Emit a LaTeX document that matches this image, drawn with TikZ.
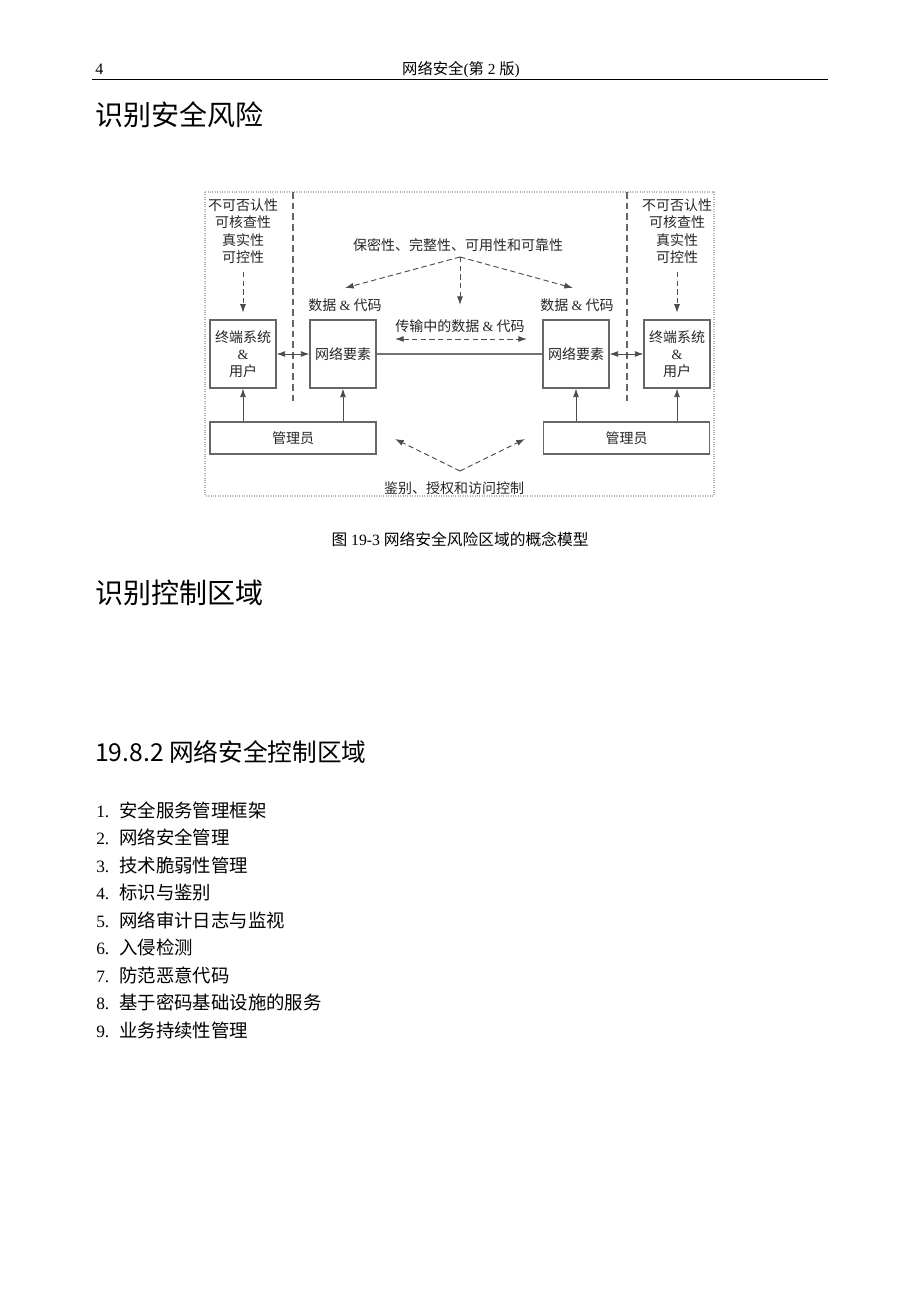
\documentclass[tikz,border=0pt]{standalone}
\usepackage{fontspec}
\setmainfont{Liberation Serif}
\newfontfamily\cjk{Noto Sans CJK SC}
\usetikzlibrary{arrows.meta,positioning}

\begin{document}
\begin{tikzpicture}[x=0.75pt,y=-0.75pt,
    box/.style={draw=black!60, line width=0.8pt, fill=white, inner sep=0pt, align=center,
        minimum width=49.5pt, minimum height=51pt, text=black!85,
        font=\cjk\fontsize{10.5}{12.8}\selectfont},
    mgrbox/.style={box, minimum width=124.5pt, minimum height=24pt},
    lbl/.style={inner sep=0pt, align=center, text=black!85,
        font=\cjk\fontsize{10.5}{13.1}\selectfont},
    arr/.style={draw=black!70, line width=0.7pt, -{Latex[length=6.5pt,width=4.5pt]}},
    dbl/.style={arr, {Latex[length=6.5pt,width=4.5pt]}-{Latex[length=6.5pt,width=4.5pt]}},
    dasharr/.style={arr, dash pattern=on 4pt off 2.5pt},
    dbldash/.style={dbl, dash pattern=on 4pt off 2.5pt},
    zone/.style={draw=black!60, line width=0.8pt, dash pattern=on 5pt off 3pt},
    link/.style={draw=black!55, line width=1.2pt},
    heading/.style={anchor=west, inner sep=0pt, font=\cjk\fontsize{21}{25}\selectfont},
    listnum/.style={anchor=base west, inner sep=0pt, font=\fontsize{13}{15}\selectfont},
    listtext/.style={anchor=base west, inner sep=0pt, font=\cjk\fontsize{13.8}{16}\selectfont}]

    % Page
    \fill[white] (0,0) rectangle (920,1301);
    \useasboundingbox (0,0) rectangle (920,1301);

    % Running head
    \node[anchor=base west, inner sep=0pt, font=\fontsize{12}{14}\selectfont] (pagenum) at (95,75) {4};
    \node[anchor=base, inner sep=0pt, font=\fontsize{11.5}{13}\selectfont] (runhead) at (461,75)
        {{\cjk 网络安全}({\cjk 第} 2 {\cjk 版})};
    \draw[line width=1pt] (92,79.5) -- (828,79.5);

    \node[heading] (head1) at (95,115) {识别安全风险};

    % Figure frame and zone borders
    \draw[gray!60, densely dotted, line width=0.8pt] (205,192) rectangle (714,496);
    \draw[zone] (293,192) -- (293,403);
    \draw[zone] (627,192) -- (627,403);

    % Boxes
    \node[box] (termL) at (243,354) {终端系统\\{\rmfamily\&}\\用户};
    \node[box] (netL) at (343,354) {网络要素};
    \node[box] (netR) at (576,354) {网络要素};
    \node[box] (termR) at (677,354) {终端系统\\{\rmfamily\&}\\用户};
    \node[mgrbox] (mgrL) at (293,438) {管理员};
    \node[mgrbox] (mgrR) at (626.5,438) {管理员};

    % Security services at the end systems
    \node[lbl] (attrL) at (243,231) {不可否认性\\可核查性\\真实性\\可控性};
    \node[lbl] (attrR) at (677,231) {不可否认性\\可核查性\\真实性\\可控性};
    \draw[dasharr, shorten <=6pt, shorten >=5pt] (attrL) -- (termL);
    \draw[dasharr, shorten <=6pt, shorten >=5pt] (attrR) -- (termR);

    % Confidentiality etc. of data and code
    \node[lbl] (cia) at (458,245) {保密性、完整性、可用性和可靠性};
    \node[lbl] (dataL) at (345,305) {数据 {\rmfamily\&} 代码};
    \node[lbl] (dataR) at (577,305) {数据 {\rmfamily\&} 代码};
    \node[lbl] (transit) at (460,326) {传输中的数据 {\rmfamily\&} 代码};
    \coordinate (ciaTip) at (460,257);
    \coordinate (dataLtip) at (345,288);
    \coordinate (dataRtip) at (573,288);
    \coordinate (midTip) at (460,305);
    \draw[dasharr] (ciaTip) -- (dataLtip);
    \draw[dasharr] (ciaTip) -- (dataRtip);
    \draw[dasharr] (ciaTip) -- (midTip);
    \coordinate (transA) at (395,339);
    \coordinate (transB) at (527,339);
    \draw[dbldash] (transA) -- (transB);

    % Links between boxes
    \draw[link] (netL) -- (netR);
    \draw[dbl] (termL) -- (netL);
    \draw[dbl] (netR) -- (termR);
    \draw[arr] (mgrL.north -| termL) -- (termL.south);
    \draw[arr] (mgrL.north -| netL) -- (netL.south);
    \draw[arr] (mgrR.north -| netR) -- (netR.south);
    \draw[arr] (mgrR.north -| termR) -- (termR.south);

    % Authentication, authorisation and access control
    \node[lbl] (authz) at (454,488) {鉴别、授权和访问控制};
    \coordinate (authTip) at (460,471);
    \coordinate (authL) at (395,439);
    \coordinate (authR) at (525,439);
    \draw[dasharr] (authTip) -- (authL);
    \draw[dasharr] (authTip) -- (authR);

    % Caption
    \node[inner sep=0pt, font=\fontsize{11.8}{14}\selectfont] (caption) at (460,539)
        {{\cjk 图} 19-3 {\cjk 网络安全风险区域的概念模型}};

    \node[heading] (head2) at (95,593) {识别控制区域};
    \node[heading, font=\cjk\fontsize{18.5}{22}\selectfont] (head3) at (95,752) {19.8.2 网络安全控制区域};

    % Control areas
    \foreach \t [count=\i] in {安全服务管理框架,网络安全管理,技术脆弱性管理,标识与鉴别,
        网络审计日志与监视,入侵检测,防范恶意代码,基于密码基础设施的服务,业务持续性管理} {
        \node[listnum] (num\i) at (96,{817+27.5*(\i-1)}) {\i.};
        \node[listtext] (item\i) at (119,{817+27.5*(\i-1)}) {\t};
    }

\end{tikzpicture}
\end{document}
